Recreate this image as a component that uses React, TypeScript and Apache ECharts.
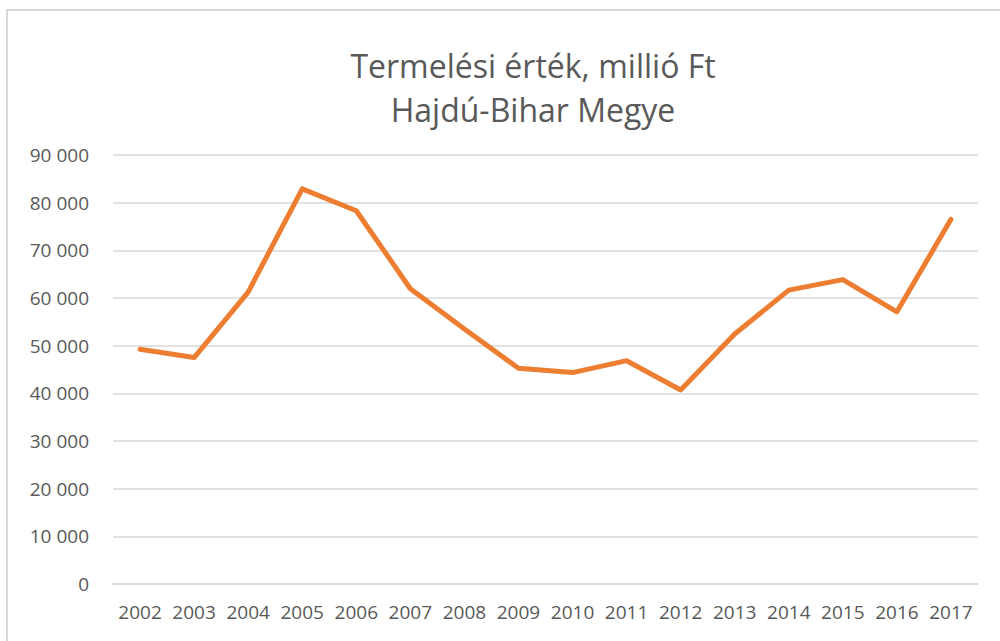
import React, { useEffect, useRef } from "react";
import * as echarts from "echarts";

const years = ["2002","2003","2004","2005","2006","2007","2008","2009","2010","2011","2012","2013","2014","2015","2016","2017"];
const values = [49250, 47500, 61250, 82900, 78300, 61950, 53500, 45250, 44350, 46850, 40700, 52450, 61650, 63850, 57100, 76500];
const titleLines = ["Termelési érték, millió Ft", "Hajdú-Bihar Megye"];

export default function App() {
  const ref = useRef<HTMLDivElement>(null);
  useEffect(() => {
    if (!ref.current) return;
    const chart = echarts.init(ref.current, null, { renderer: "svg" });
    const fmt = (v: number) => {
      const s = String(Math.round(v));
      return s.replace(/\B(?=(\d{3})+(?!\d))/g, " ");
    };
    chart.setOption({
      animation: false,
      backgroundColor: "#ffffff",
      graphic: [
        {
          type: "rect",
          shape: { x: 7, y: 10, width: 1010, height: 700 },
          style: { fill: "none", stroke: "#d9d9d9", lineWidth: 2 },
          silent: true,
        },
      ],
      title: {
        text: titleLines.join("\n"),
        left: 528,
        textAlign: "center",
        top: 38,
        textStyle: {
          fontFamily: "Open Sans",
          fontSize: 32,
          fontWeight: "normal",
          color: "#595959",
          lineHeight: 44,
        },
      },
      grid: { left: 113, right: 22, top: 155, bottom: 57, containLabel: false },
      xAxis: {
        type: "category",
        data: years,
        boundaryGap: true,
        axisLine: { show: true, lineStyle: { color: "#d9d9d9", width: 1.5 } },
        axisTick: { show: false },
        axisLabel: {
          color: "#595959",
          fontFamily: "Open Sans",
          fontSize: 19,
          margin: 18,
          interval: 0,
        },
      },
      yAxis: {
        type: "value",
        min: 0,
        max: 90000,
        interval: 10000,
        axisLine: { show: false },
        axisTick: { show: false },
        splitLine: { lineStyle: { color: "#d9d9d9", width: 1.5 } },
        axisLabel: {
          color: "#595959",
          fontFamily: "Open Sans",
          fontSize: 19,
          margin: 24,
          formatter: fmt,
        },
      },
      series: [
        {
          type: "line",
          data: values,
          showSymbol: false,
          symbol: "none",
          lineStyle: { color: "#ED7D31", width: 5, cap: "round", join: "round" },
          itemStyle: { color: "#ED7D31" },
        },
      ],
    });
    return () => chart.dispose();
  }, []);
  return (
    <div
      ref={ref}
      style={{ position: "fixed", left: 0, top: 0, width: 1000, height: 641 }}
    />
  );
}
